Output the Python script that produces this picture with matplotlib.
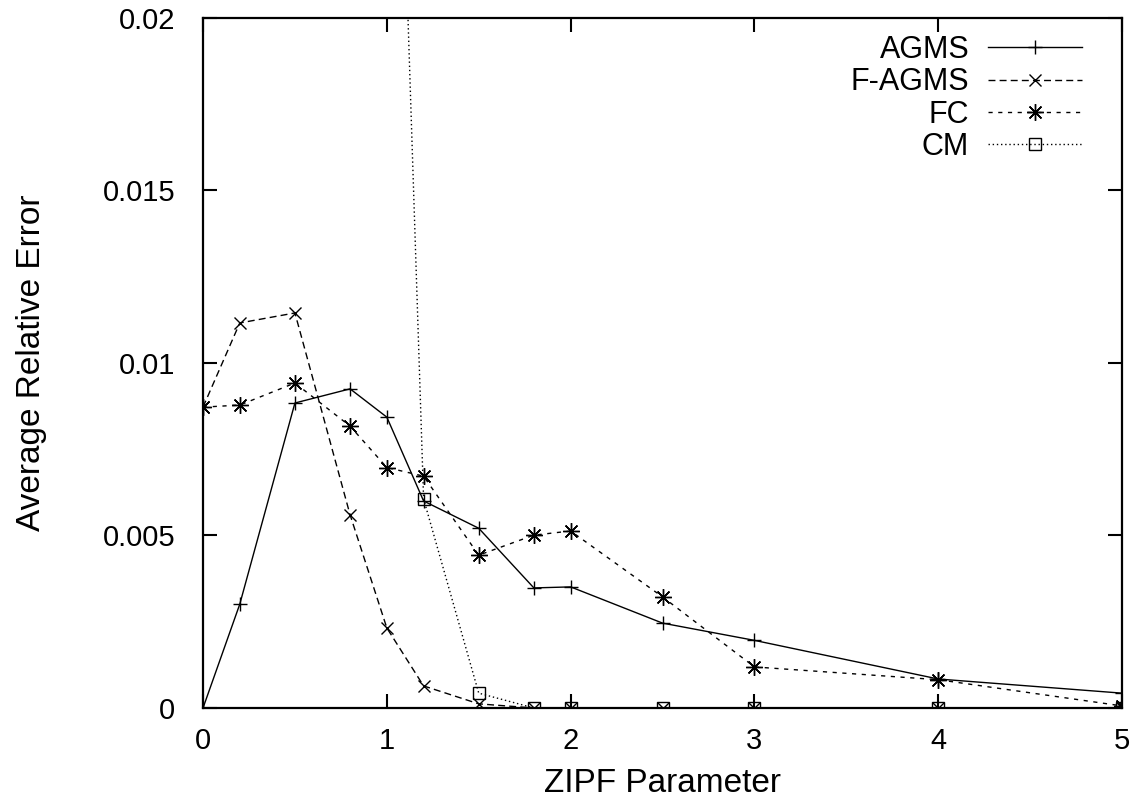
#!/usr/bin/env python3
import matplotlib
matplotlib.use('Agg')
import matplotlib.pyplot as plt
import matplotlib.ticker as ticker

plt.rcParams['font.family'] = ['Liberation Sans', 'DejaVu Sans']

zipf = [0.0, 0.2, 0.5, 0.8, 1.0, 1.2, 1.5, 1.8, 2.0, 2.5, 3.0, 4.0, 5.0]

agms = [0.0, 0.00301, 0.00884, 0.00925, 0.00843, 0.00600, 0.00521,
        0.00348, 0.00351, 0.00246, 0.00196, 0.00084, 0.00043]
fagms = [0.00872, 0.01116, 0.01145, 0.00560, 0.00232, 0.00064, 0.00012,
         0.0, 0.0, 0.0, 0.0, 0.0, 0.0]
fc = [0.00872, 0.00878, 0.00942, 0.00817, 0.00697, 0.00672, 0.00443,
      0.00501, 0.00513, 0.00322, 0.00119, 0.00082, 0.00006]
# CM is far off the top of the axes below zipf=1.0
zipf_cm = [1.0, 1.2, 1.5, 1.8, 2.0, 2.5, 3.0, 4.0, 5.0]
cm = [0.0389, 0.00606, 0.00043, 0.0, 0.0, 0.0, 0.0, 0.0, 0.0]

fs = 24
fslegend = 22
fsticklabel = 21

fig = plt.figure(figsize=(11.38, 8.06), dpi=100)
ax = fig.add_axes([0.1784, 0.1216, 0.8076, 0.8561])

ax.plot(zipf, agms, label='AGMS', color='black', lw=1.0, marker='+',
        markersize=10, markeredgewidth=1.0)
ax.plot(zipf, fagms, label='F-AGMS', color='black', lw=1.0, dashes=(5, 3),
        marker='x', markersize=8, markeredgewidth=1.0)
ax.plot(zipf, fc, label='FC', color='black', lw=1.0, dashes=(3, 4),
        marker=(8, 2, 0), markersize=12, markeredgewidth=1.0)
ax.plot(zipf_cm, cm, label='CM', color='black', lw=1.0, dashes=(1, 2),
        marker='s', markersize=9, markerfacecolor='none', markeredgewidth=1.0)

ax.set_xlim(0, 5)
ax.set_ylim(0, 0.02)
ax.xaxis.set_major_locator(ticker.MultipleLocator(base=1.0))
ax.yaxis.set_major_locator(ticker.MultipleLocator(base=0.005))
ax.yaxis.set_major_formatter(ticker.FuncFormatter(lambda v, p: '0' if v == 0 else '%g' % v))
ax.tick_params(direction='in', length=10, width=1.5, top=True, right=True,
               labelsize=fsticklabel)
ax.tick_params(axis='y', pad=20)
ax.tick_params(axis='x', pad=14)
for axis in ['top', 'bottom', 'left', 'right']:
    ax.spines[axis].set_linewidth(1.6)

ax.set_xlabel('ZIPF Parameter', fontsize=fs, labelpad=9)
ax.set_ylabel('Average Relative Error', fontsize=fs, labelpad=40)

ax.legend(loc='upper right', markerfirst=False, frameon=False, fontsize=fslegend,
          handlelength=3.1, handletextpad=0.6, labelspacing=0.08,
          borderaxespad=0.3, borderpad=0.25, bbox_to_anchor=(0.975, 1.0))

fig.savefig('out.png', dpi=100)
plt.close()
